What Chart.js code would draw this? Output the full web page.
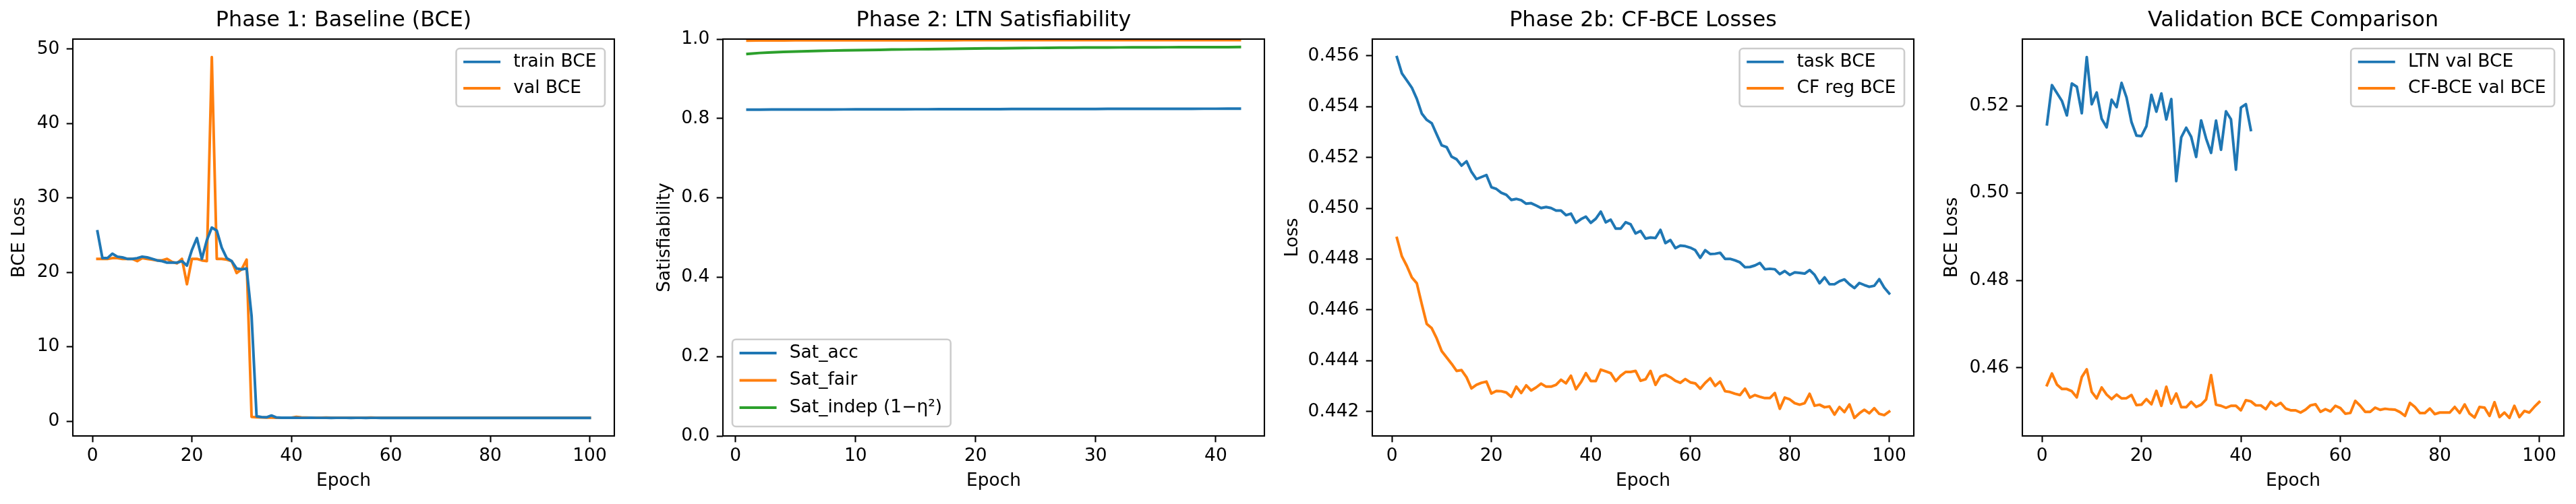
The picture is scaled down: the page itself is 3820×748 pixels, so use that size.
<!DOCTYPE html>
<html>
<head>
<meta charset="utf-8">
<script src="https://cdn.jsdelivr.net/npm/chart.js@4.4.1/dist/chart.umd.min.js"></script>
<style>
html,body{margin:0;padding:0;background:#ffffff;overflow:hidden;width:3820px;height:748px;position:relative;}
canvas{position:absolute;top:0;}
</style>
</head>
<body>
<canvas id="c1"></canvas>
<canvas id="c2"></canvas>
<canvas id="c3"></canvas>
<canvas id="c4"></canvas>
<script>
// ---------------- DATA ----------------
const epochs100 = [1,2,3,4,5,6,7,8,9,10,11,12,13,14,15,16,17,18,19,20,21,22,23,24,25,26,27,28,29,30,31,32,33,34,35,36,37,38,39,40,41,42,43,44,45,46,47,48,49,50,51,52,53,54,55,56,57,58,59,60,61,62,63,64,65,66,67,68,69,70,71,72,73,74,75,76,77,78,79,80,81,82,83,84,85,86,87,88,89,90,91,92,93,94,95,96,97,98,99,100];
const epochs42 = [1,2,3,4,5,6,7,8,9,10,11,12,13,14,15,16,17,18,19,20,21,22,23,24,25,26,27,28,29,30,31,32,33,34,35,36,37,38,39,40,41,42];

// Phase 1: Baseline (BCE)
const p1TrainBCE = [
25.5,21.9,21.9,22.5,22.1,22.0,21.8,21.8,21.9,22.1,
22.0,21.8,21.6,21.5,21.3,21.3,21.3,21.5,20.9,23.0,
24.6,21.8,24.3,26.0,25.6,23.3,21.9,21.5,20.5,20.4,
20.5,14.1,0.67,0.55,0.52,0.76,0.50,0.47,0.46,0.46,
0.46,0.45,0.45,0.46,0.45,0.45,0.45,0.44,0.45,0.45,
0.45,0.44,0.45,0.45,0.44,0.45,0.45,0.44,0.45,0.44,
0.45,0.44,0.44,0.45,0.44,0.44,0.45,0.44,0.44,0.44,
0.45,0.44,0.44,0.44,0.44,0.45,0.44,0.44,0.44,0.44,
0.44,0.44,0.44,0.45,0.44,0.44,0.44,0.44,0.44,0.44,
0.44,0.44,0.44,0.44,0.44,0.44,0.44,0.44,0.44,0.44];
const p1ValBCE = [
21.8,21.8,21.8,21.9,21.9,21.8,21.8,21.8,21.5,21.9,
21.8,21.7,21.6,21.6,21.8,21.4,21.2,21.8,18.4,21.8,
21.8,21.6,21.5,48.9,21.8,21.8,21.7,21.5,19.9,20.4,
21.7,0.58,0.52,0.50,0.49,0.48,0.47,0.47,0.46,0.47,
0.58,0.50,0.48,0.47,0.47,0.47,0.48,0.47,0.47,0.47,
0.46,0.47,0.47,0.46,0.47,0.48,0.47,0.46,0.47,0.46,
0.47,0.46,0.46,0.47,0.46,0.46,0.47,0.46,0.46,0.46,
0.47,0.46,0.46,0.46,0.47,0.46,0.46,0.46,0.47,0.46,
0.46,0.46,0.46,0.47,0.46,0.46,0.46,0.46,0.46,0.46,
0.46,0.46,0.47,0.46,0.46,0.46,0.46,0.46,0.46,0.46];

// Phase 2: LTN Satisfiability
const p2SatAcc = [
0.8222,0.8223,0.8224,0.8225,0.8225,0.8226,0.8227,0.8227,0.8228,0.8229,
0.8229,0.8230,0.8231,0.8231,0.8232,0.8232,0.8233,0.8234,0.8234,0.8235,
0.8235,0.8236,0.8237,0.8237,0.8238,0.8238,0.8239,0.8239,0.8240,0.8240,
0.8241,0.8241,0.8242,0.8242,0.8243,0.8243,0.8244,0.8244,0.8245,0.8245,
0.8246,0.8246];
const p2SatFair = [
0.9963,0.9965,0.9966,0.9967,0.9968,0.9968,0.9969,0.9969,0.9970,0.9970,
0.9970,0.9971,0.9971,0.9971,0.9972,0.9972,0.9972,0.9972,0.9973,0.9973,
0.9973,0.9973,0.9973,0.9974,0.9974,0.9974,0.9974,0.9974,0.9974,0.9975,
0.9975,0.9975,0.9975,0.9975,0.9975,0.9975,0.9976,0.9976,0.9976,0.9976,
0.9976,0.9976];
const p2SatIndep = [
0.9626,0.9650,0.9665,0.9676,0.9686,0.9694,0.9702,0.9709,0.9715,0.9720,
0.9725,0.9730,0.9735,0.9739,0.9743,0.9747,0.9751,0.9755,0.9759,0.9762,
0.9765,0.9768,0.9771,0.9774,0.9777,0.9780,0.9782,0.9784,0.9786,0.9788,
0.9789,0.9790,0.9791,0.9792,0.9793,0.9794,0.9795,0.9796,0.9797,0.9798,
0.9798,0.9799];

// Phase 2b: CF-BCE Losses
const p3TaskBCE = [
0.45595,0.45531,0.45503,0.45475,0.45431,0.45373,0.45348,0.45335,0.45291,0.45248,
0.45241,0.45203,0.45193,0.45168,0.45185,0.45143,0.45115,0.45123,0.45131,0.45083,
0.45076,0.45061,0.45053,0.45033,0.45037,0.45032,0.45018,0.45020,0.45011,0.45001,
0.45005,0.45001,0.44991,0.44991,0.44973,0.44979,0.44943,0.44957,0.44967,0.44943,
0.44959,0.44987,0.44945,0.44955,0.44920,0.44920,0.44945,0.44937,0.44901,0.44911,
0.44881,0.44885,0.44883,0.44915,0.44863,0.44875,0.44843,0.44853,0.44851,0.44845,
0.44835,0.44805,0.44835,0.44820,0.44821,0.44825,0.44801,0.44801,0.44795,0.44787,
0.44768,0.44769,0.44775,0.44785,0.44760,0.44762,0.44760,0.44741,0.44753,0.44738,
0.44748,0.44746,0.44743,0.44757,0.44738,0.44705,0.44728,0.44701,0.44701,0.44713,
0.44720,0.44701,0.44686,0.44706,0.44698,0.44691,0.44695,0.44721,0.44688,0.44665];
const p3CfRegBCE = [
0.44883,0.44811,0.44773,0.44728,0.44705,0.44623,0.44545,0.44528,0.44488,0.44438,
0.44413,0.44388,0.44360,0.44363,0.44335,0.44291,0.44305,0.44313,0.44318,0.44271,
0.44281,0.44280,0.44275,0.44258,0.44298,0.44273,0.44303,0.44283,0.44295,0.44310,
0.44298,0.44298,0.44305,0.44325,0.44311,0.44341,0.44288,0.44315,0.44351,0.44320,
0.44320,0.44365,0.44358,0.44351,0.44320,0.44341,0.44356,0.44356,0.44360,0.44321,
0.44327,0.44360,0.44305,0.44338,0.44345,0.44335,0.44321,0.44313,0.44328,0.44315,
0.44311,0.44290,0.44313,0.44331,0.44301,0.44318,0.44280,0.44277,0.44270,0.44265,
0.44290,0.44255,0.44265,0.44258,0.44253,0.44253,0.44273,0.44211,0.44255,0.44248,
0.44233,0.44227,0.44233,0.44270,0.44223,0.44227,0.44217,0.44220,0.44188,0.44218,
0.44198,0.44228,0.44175,0.44193,0.44207,0.44193,0.44213,0.44191,0.44186,0.44200];

// Validation BCE Comparison
const p4LtnValBCE = [
0.51574,0.52473,0.52293,0.52113,0.51779,0.52509,0.52437,0.51830,0.53115,0.52036,
0.52303,0.51702,0.51507,0.52139,0.51969,0.52524,0.52190,0.51625,0.51317,0.51306,
0.51533,0.52252,0.51866,0.52283,0.51687,0.52154,0.50274,0.51276,0.51497,0.51291,
0.50829,0.51666,0.51250,0.50921,0.51661,0.50993,0.51872,0.51692,0.50536,0.51959,
0.52036,0.51445];
const p4CfValBCE = [
0.45600,0.45867,0.45615,0.45512,0.45512,0.45461,0.45322,0.45785,0.45964,0.45446,
0.45297,0.45548,0.45384,0.45281,0.45384,0.45297,0.45302,0.45374,0.45142,0.45153,
0.45281,0.45163,0.45471,0.45127,0.45564,0.45178,0.45410,0.45096,0.45096,0.45219,
0.45101,0.45153,0.45271,0.45831,0.45153,0.45127,0.45081,0.45127,0.45127,0.45024,
0.45255,0.45230,0.45137,0.45137,0.45050,0.45219,0.45127,0.45194,0.45065,0.45024,
0.45024,0.44973,0.45040,0.45137,0.45163,0.44988,0.45050,0.44999,0.45127,0.45076,
0.44947,0.44963,0.45240,0.45127,0.44988,0.44988,0.45086,0.45035,0.45060,0.45045,
0.45040,0.44983,0.44896,0.45194,0.45101,0.44963,0.44963,0.45065,0.44937,0.44973,
0.44973,0.44973,0.45101,0.44963,0.45158,0.44947,0.44860,0.45101,0.45086,0.44896,
0.45209,0.44870,0.44973,0.44850,0.45127,0.44870,0.45009,0.44973,0.45101,0.45214];

// Tick labels
const xTicks100 = [0,20,40,60,80,100];
const xTicks42 = [0,10,20,30,40];
const p1YTicks = [0,10,20,30,40,50];
const p2YTicks = [0,0.2,0.4,0.6,0.8,1.0];
const p3YTicks = [0.442,0.444,0.446,0.448,0.450,0.452,0.454,0.456];
const p4YTicks = [0.46,0.48,0.50,0.52];

// Text
const titles = ['Phase 1: Baseline (BCE)','Phase 2: LTN Satisfiability','Phase 2b: CF-BCE Losses','Validation BCE Comparison'];
const yLabels = ['BCE Loss','Satisfiability','Loss','BCE Loss'];
const xLabel = 'Epoch';

// ---------------- STYLE ----------------
const FONT = "'DejaVu Sans', 'Liberation Sans', sans-serif";
const FS = 26.5, TITLE_FS = 31.8;
const C_BLUE = '#1f77b4', C_ORANGE = '#ff7f0e', C_GREEN = '#2ca02c';
const AX_W = 803, Y_AXIS_W = 140, RIGHT_PAD = 20, CANVAS_H = 748;

Chart.defaults.font.family = FONT;
Chart.defaults.color = '#000';

function padRange(arrs) {
  let lo = Infinity, hi = -Infinity;
  arrs.forEach(a => a.forEach(v => { if (v < lo) lo = v; if (v > hi) hi = v; }));
  const r = hi - lo;
  return [lo - 0.05 * r, hi + 0.05 * r];
}

const mplDecor = {
  id: 'mplDecor',
  afterDatasetsDraw(chart, args, opts) {
    const {ctx, chartArea: a} = chart;
    ctx.save();
    // frame (all four spines)
    ctx.strokeStyle = '#000';
    ctx.lineWidth = 2.1;
    ctx.strokeRect(a.left, a.top, a.right - a.left, a.bottom - a.top);
    // legend
    const bp = 0.4 * FS, hl = 2 * FS, htp = 0.8 * FS, ls = 0.5 * FS, bap = 14;
    const h = opts.rowH || 25.8;
    ctx.font = FS + 'px ' + FONT;
    const items = chart.data.datasets.map(d => ({label: d.label, color: d.borderColor}));
    const tw = Math.max(...items.map(it => ctx.measureText(it.label).width));
    const W = bp + hl + htp + tw + bp + 2;
    const H = 2 * bp + items.length * h + (items.length - 1) * ls;
    let x0, y0;
    if (opts.loc === 'lower left') { x0 = a.left + bap; y0 = a.bottom - bap - H; }
    else { x0 = a.right - bap - W; y0 = a.top + bap; }
    ctx.beginPath();
    ctx.roundRect(x0, y0, W, H, 0.2 * FS);
    ctx.fillStyle = 'rgba(255,255,255,0.8)';
    ctx.fill();
    ctx.strokeStyle = '#cccccc';
    ctx.lineWidth = 2.6;
    ctx.stroke();
    items.forEach((it, i) => {
      const cy = y0 + bp + 0.36 * h + i * (h + ls);
      ctx.beginPath();
      ctx.moveTo(x0 + bp + 2, cy);
      ctx.lineTo(x0 + bp + hl, cy);
      ctx.strokeStyle = it.color;
      ctx.lineWidth = 3.97;
      ctx.lineCap = 'square';
      ctx.stroke();
      ctx.fillStyle = '#000';
      ctx.textBaseline = 'middle';
      ctx.textAlign = 'left';
      ctx.fillText(it.label, x0 + bp + hl + htp, cy);
    });
    ctx.restore();
  }
};

function makeChart(id, axisLeft, cfg) {
  const cv = document.getElementById(id);
  const cw = Y_AXIS_W + AX_W + RIGHT_PAD;
  cv.width = cw; cv.height = CANVAS_H;
  cv.style.left = (axisLeft - Y_AXIS_W) + 'px';
  cv.style.width = cw + 'px'; cv.style.height = CANVAS_H + 'px';
  const xr = padRange([cfg.epochs]);
  const yr = cfg.yRange || padRange(cfg.series.map(s => s.values));
  const tickGrid = {display: true, drawOnChartArea: false, drawTicks: true, tickLength: 9.3, tickWidth: 2.1, tickColor: '#000'};
  return new Chart(cv, {
    type: 'line',
    data: {
      datasets: cfg.series.map(s => ({
        label: s.label,
        data: s.values.map((v, i) => ({x: cfg.epochs[i], y: v})),
        borderColor: s.color,
        backgroundColor: s.color,
        borderWidth: 3.97,
        pointRadius: 0,
        tension: 0,
        fill: false,
        borderCapStyle: 'square',
        borderJoinStyle: 'round'
      }))
    },
    options: {
      responsive: false,
      animation: false,
      events: [],
      layout: {padding: {left: 0, right: RIGHT_PAD, top: 0, bottom: 0}},
      plugins: {
        legend: {display: false},
        tooltip: {enabled: false},
        title: {
          display: true, text: cfg.title, fullSize: false, color: '#000',
          font: {size: TITLE_FS, weight: 'normal', family: FONT, lineHeight: 1.2},
          padding: {top: 12.04, bottom: 7.8}
        },
        mplDecor: {loc: cfg.legendLoc, rowH: cfg.rowH}
      },
      scales: {
        x: {
          type: 'linear', position: 'bottom', min: xr[0], max: xr[1],
          afterBuildTicks: s => { s.ticks = cfg.xTicks.map(v => ({value: v})); },
          afterFit: s => { s.height = 101; },
          grid: tickGrid,
          border: {display: false},
          ticks: {color: '#000', font: {size: FS, family: FONT}, padding: 5.3, maxRotation: 0, minRotation: 0, autoSkip: false,
                  callback: v => String(v)},
          title: {display: true, text: xLabel, color: '#000', font: {size: FS, family: FONT}, padding: {top: 0, bottom: 18}}
        },
        y: {
          type: 'linear', position: 'left', min: yr[0], max: yr[1],
          afterBuildTicks: s => { s.ticks = cfg.yTicks.map(v => ({value: v})); },
          afterFit: s => { s.width = Y_AXIS_W; },
          grid: tickGrid,
          border: {display: false},
          ticks: {color: '#000', font: {size: FS, family: FONT}, padding: 10.3, autoSkip: false,
                  callback: v => cfg.yFmt(v)},
          title: {display: true, text: cfg.yLabel, color: '#000', font: {size: FS, family: FONT},
                  padding: {top: cfg.yTitlePad, bottom: cfg.yTitlePad}}
        }
      }
    },
    plugins: [mplDecor]
  });
}

makeChart('c1', 108, {
  title: titles[0], yLabel: yLabels[0], epochs: epochs100, xTicks: xTicks100, yTicks: p1YTicks,
  yFmt: v => String(Math.round(v)), yTitlePad: 45.2, legendLoc: 'upper right', rowH: 25.8,
  series: [
    {label: 'train BCE', values: p1TrainBCE, color: C_BLUE},
    {label: 'val BCE', values: p1ValBCE, color: C_ORANGE}
  ]
});
makeChart('c2', 1072, {
  title: titles[1], yLabel: yLabels[1], epochs: epochs42, xTicks: xTicks42, yTicks: p2YTicks,
  yRange: [0, 1], yFmt: v => v.toFixed(1), yTitlePad: 38.1, legendLoc: 'lower left', rowH: 27.2,
  series: [
    {label: 'Sat_acc', values: p2SatAcc, color: C_BLUE},
    {label: 'Sat_fair', values: p2SatFair, color: C_ORANGE},
    {label: 'Sat_indep (1\u2212\u03b7\u00b2)', values: p2SatIndep, color: C_GREEN}
  ]
});
makeChart('c3', 2035, {
  title: titles[2], yLabel: yLabels[2], epochs: epochs100, xTicks: xTicks100, yTicks: p3YTicks,
  yFmt: v => v.toFixed(3), yTitlePad: 5.9, legendLoc: 'upper right', rowH: 25.8,
  series: [
    {label: 'task BCE', values: p3TaskBCE, color: C_BLUE},
    {label: 'CF reg BCE', values: p3CfRegBCE, color: C_ORANGE}
  ]
});
makeChart('c4', 2999, {
  title: titles[3], yLabel: yLabels[3], epochs: epochs100, xTicks: xTicks100, yTicks: p4YTicks,
  yFmt: v => v.toFixed(2), yTitlePad: 19.8, legendLoc: 'upper right', rowH: 25.8,
  series: [
    {label: 'LTN val BCE', values: p4LtnValBCE, color: C_BLUE},
    {label: 'CF-BCE val BCE', values: p4CfValBCE, color: C_ORANGE}
  ]
});
</script>
</body>
</html>
